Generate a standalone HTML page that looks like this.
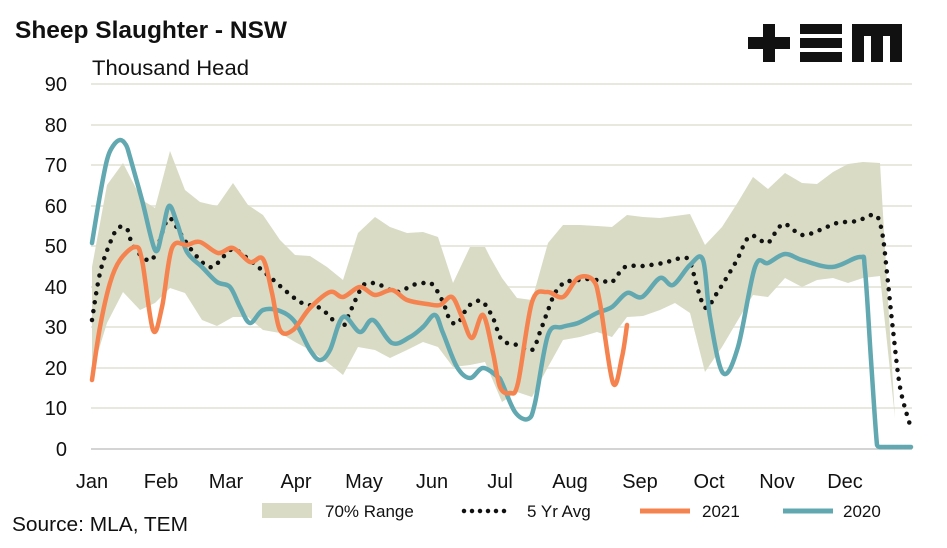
<!DOCTYPE html>
<html><head><meta charset="utf-8"><style>
body{margin:0;background:#fff;width:947px;height:543px;overflow:hidden;font-family:"Liberation Sans",sans-serif}
svg text{font-family:"Liberation Sans",sans-serif;fill:#111}
</style></head><body>
<svg width="947" height="543" viewBox="0 0 947 543" xmlns="http://www.w3.org/2000/svg">
<text x="15" y="38" font-size="24" font-weight="bold" textLength="272" lengthAdjust="spacingAndGlyphs">Sheep Slaughter - NSW</text>
<text x="92" y="75" font-size="21" textLength="157" lengthAdjust="spacingAndGlyphs">Thousand Head</text>
<g fill="#111">
<rect x="748" y="37" width="42" height="12"/><rect x="763" y="24" width="12" height="38"/>
<rect x="800" y="24" width="42" height="10"/><rect x="800" y="38" width="42" height="10"/><rect x="800" y="52" width="42" height="10"/>
<path d="M852 62 V24 H902 V62 H890 V36 H883 V62 H871 V36 H864 V62 Z"/>
</g>
<g stroke="#e9e8de" stroke-width="2">
<line x1="91" x2="912" y1="84" y2="84"/><line x1="91" x2="912" y1="125" y2="125"/><line x1="91" x2="912" y1="165" y2="165"/>
<line x1="91" x2="912" y1="206" y2="206"/><line x1="91" x2="912" y1="246" y2="246"/><line x1="91" x2="912" y1="287" y2="287"/>
<line x1="91" x2="912" y1="327" y2="327"/><line x1="91" x2="912" y1="368" y2="368"/><line x1="91" x2="912" y1="408" y2="408"/>
</g>
<line x1="91" x2="912" y1="449" y2="449" stroke="#d4d4d4" stroke-width="2"/>
<g font-size="20" text-anchor="end">
<text x="67" y="91">90</text><text x="67" y="132">80</text><text x="67" y="172">70</text><text x="67" y="213">60</text>
<text x="67" y="253">50</text><text x="67" y="294">40</text><text x="67" y="334">30</text><text x="67" y="375">20</text>
<text x="67" y="415">10</text><text x="67" y="456">0</text>
</g>
<g font-size="20" text-anchor="middle">
<text x="92" y="488">Jan</text><text x="161" y="488">Feb</text><text x="226" y="488">Mar</text><text x="296" y="488">Apr</text>
<text x="364" y="488">May</text><text x="432" y="488">Jun</text><text x="500" y="488">Jul</text><text x="570" y="488">Aug</text>
<text x="640" y="488">Sep</text><text x="709" y="488">Oct</text><text x="777" y="488">Nov</text><text x="845" y="488">Dec</text>
</g>
<polygon fill="#d9dbc5" points="92,267 107,185 123,163 142,200 155,208 170,151 185,190 200,202 217,206 233,183 248,205 263,215 280,240 295,255 310,256 327,267 343,280 358,233 375,217 390,227 407,233 423,232 438,237 453,283 470,247 485,247 490,257 502,278 517,298 532,300 548,243 563,225 580,225 597,226 612,227 627,215 643,217 660,218 675,216 690,214 705,245 722,227 738,202 753,177 768,189 785,173 802,183 817,184 833,172 848,164 863,162 880,163 895,418 911,436 911,436 895,418 880,276 863,278 848,283 833,278 817,280 802,287 785,278 768,297 753,295 738,320 722,347 705,372 690,313 675,303 660,310 643,316 627,317 612,337 597,332 580,337 563,340 548,367 532,397 517,392 502,402 485,362 470,365 453,367 438,347 423,342 407,350 390,358 375,350 358,347 343,375 327,362 310,350 295,342 280,333 263,330 248,317 233,317 217,326 202,320 185,293 170,288 155,303 140,310 123,292 107,323 92,372"/>
<polyline class="sm" fill="none" stroke="#111" stroke-width="4.5" stroke-linecap="round" stroke-linejoin="round" stroke-dasharray="0 9" points="92,320 100,273 110,243 118,228 127,229 133,246 147,260 155,255 168,219 180,233 190,248 203,263 213,267 223,257 233,249 243,255 257,266 270,277 287,292 302,303 320,308 333,320 342,328 350,312 362,287 370,283 380,285 397,292 413,285 425,283 433,285 443,302 450,320 458,323 467,308 475,302 483,302 493,318 500,337 507,343 517,345 532,350 540,332 547,313 555,293 565,282 573,281 587,279 603,281 612,282 625,267 643,266 663,263 682,258 690,262 698,290 706,308 717,293 727,277 737,260 750,236 767,243 777,230 785,224 802,235 820,230 837,223 857,221 875,215 882,232 887,273 893,330 900,387 910,425"/>
<polyline class="sm" fill="none" stroke="#62a8b1" stroke-width="4.5" stroke-linecap="round" stroke-linejoin="round" points="92,243 100,195 107,160 113,146 120,140 126,145 130,157 142,200 155,250 162,233 169,206 177,223 187,252 202,267 217,282 230,287 240,307 250,323 263,310 280,311 295,322 310,350 320,360 330,350 343,317 360,332 373,320 392,343 410,337 423,327 435,315 443,333 457,367 470,378 483,368 498,377 502,383 515,412 528,419 535,403 548,335 562,327 578,323 597,313 612,307 627,293 642,297 660,278 673,285 690,265 703,260 710,317 723,373 738,347 755,267 768,263 785,254 802,260 832,267 860,257 865,270 871,360 877,445 880,447 893,447 911,447"/>
<polyline class="sm" fill="none" stroke="#f5834f" stroke-width="4.5" stroke-linecap="round" stroke-linejoin="round" points="92,380 100,327 110,283 120,260 135,247 142,260 153,330 162,307 172,248 187,245 200,242 218,253 233,248 250,262 263,259 272,293 280,330 293,330 310,308 330,292 343,297 360,287 375,295 392,290 407,300 427,304 440,305 452,297 462,317 472,338 483,315 493,353 500,387 510,393 518,383 532,302 547,292 563,297 578,278 593,280 600,303 613,383 622,357 627,325"/>
<rect x="262" y="503" width="50" height="15" fill="#d9dbc5"/>
<text x="325" y="517" font-size="17">70% Range</text>
<line x1="464" x2="512" y1="511" y2="511" stroke="#111" stroke-width="4.5" stroke-linecap="round" stroke-dasharray="0 8"/>
<text x="527" y="517" font-size="17">5 Yr Avg</text>
<line x1="640" x2="690" y1="511" y2="511" stroke="#f5834f" stroke-width="5"/>
<text x="702" y="517" font-size="17">2021</text>
<line x1="783" x2="833" y1="511" y2="511" stroke="#62a8b1" stroke-width="5"/>
<text x="843" y="517" font-size="17">2020</text>
<text x="12" y="531" font-size="20" textLength="176" lengthAdjust="spacingAndGlyphs">Source: MLA, TEM</text>
</svg>
<script>
document.querySelectorAll('polyline.sm').forEach(function(pl){
  var pts=pl.getAttribute('points').trim().split(/\s+/).map(function(s){return s.split(',').map(Number);});
  var d='M'+pts[0][0]+' '+pts[0][1];
  for(var i=0;i<pts.length-1;i++){
    var p0=pts[i-1]||pts[i],p1=pts[i],p2=pts[i+1],p3=pts[i+2]||p2;
    var c1x=p1[0]+(p2[0]-p0[0])/6,c1y=p1[1]+(p2[1]-p0[1])/6;
    var c2x=p2[0]-(p3[0]-p1[0])/6,c2y=p2[1]-(p3[1]-p1[1])/6;
    if(c1y>447)c1y=447; if(c2y>447)c2y=447;
    d+=' C'+c1x.toFixed(1)+' '+c1y.toFixed(1)+' '+c2x.toFixed(1)+' '+c2y.toFixed(1)+' '+p2[0]+' '+p2[1];
  }
  var p=document.createElementNS('http://www.w3.org/2000/svg','path');
  ['fill','stroke','stroke-width','stroke-linecap','stroke-linejoin','stroke-dasharray'].forEach(function(a){var v=pl.getAttribute(a);if(v)p.setAttribute(a,v);});
  p.setAttribute('d',d);
  pl.parentNode.replaceChild(p,pl);
});
</script>
</body></html>
